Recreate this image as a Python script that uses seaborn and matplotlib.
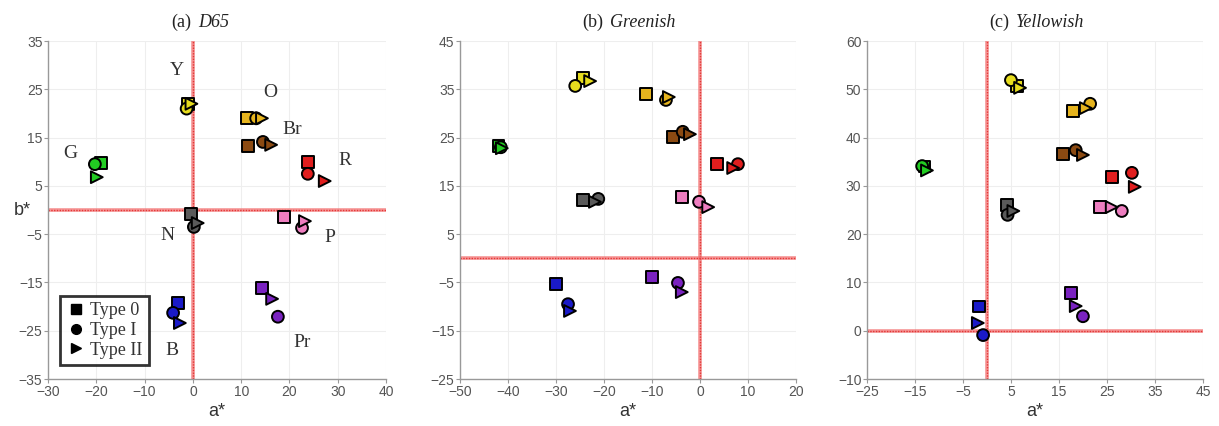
import numpy as np
import pandas as pd
import matplotlib
matplotlib.use("Agg")
import matplotlib.pyplot as plt
from matplotlib.lines import Line2D
import seaborn as sns

sns.set_theme(style="whitegrid")
plt.rcParams["font.family"] = ["Liberation Sans", "DejaVu Sans"]

# Colour categories (same order in every array below)
categories = ["G", "Y", "O", "Br", "R", "N", "P", "Pr", "B"]
types = ["Type 0", "Type I", "Type II"]

# (a) D65 : a*, b* for each type
d65_a_t0 = [-19.0, -1.0, 11.2, 11.4, 23.8, -0.4, 18.9, 14.3, -3.1]
d65_b_t0 = [9.7, 22.0, 19.1, 13.3, 10.0, -0.8, -1.4, -16.1, -19.2]
d65_a_t1 = [-20.3, -1.3, 13.1, 14.5, 23.8, 0.2, 22.6, 17.6, -4.1]
d65_b_t1 = [9.5, 21.0, 19.0, 14.1, 7.5, -3.5, -3.7, -22.1, -21.3]
d65_a_t2 = [-19.9, -0.3, 14.3, 16.2, 27.3, 1.0, 23.2, 16.4, -2.7]
d65_b_t2 = [6.8, 22.0, 19.0, 13.5, 6.0, -2.7, -2.3, -18.4, -23.4]

# (b) Greenish
grn_a_t0 = [-42.0, -24.4, -11.2, -5.7, 3.5, -24.4, -3.8, -10.0, -30.0]
grn_b_t0 = [23.3, 37.3, 34.0, 25.1, 19.5, 12.1, 12.7, -3.9, -5.3]
grn_a_t1 = [-41.5, -26.0, -7.1, -3.6, 7.9, -21.2, -0.2, -4.6, -27.5]
grn_b_t1 = [23.0, 35.7, 32.8, 26.2, 19.5, 12.3, 11.7, -5.1, -9.5]
grn_a_t2 = [-41.3, -22.9, -6.5, -2.1, 6.9, -21.9, 1.7, -3.8, -27.1]
grn_b_t2 = [22.8, 36.7, 33.4, 25.7, 18.7, 11.7, 10.6, -7.0, -10.9]

# (c) Yellowish
yel_a_t0 = [-13.0, 6.2, 17.9, 15.8, 26.0, 4.2, 23.5, 17.5, -1.7]
yel_b_t0 = [34.0, 50.7, 45.5, 36.6, 31.8, 26.0, 25.6, 7.8, 5.0]
yel_a_t1 = [-13.5, 5.0, 21.5, 18.5, 30.2, 4.3, 28.1, 20.0, -0.8]
yel_b_t1 = [34.1, 51.9, 47.0, 37.4, 32.7, 24.0, 24.8, 3.0, -0.9]
yel_a_t2 = [-12.5, 6.9, 20.6, 20.0, 30.8, 5.5, 26.0, 18.5, -1.9]
yel_b_t2 = [33.2, 50.3, 46.1, 36.4, 29.8, 24.8, 25.6, 5.1, 1.6]

# Category label positions for the D65 panel
label_a = [-25.4, -3.3, 16.0, 20.5, 31.5, -5.2, 28.4, 22.6, -4.3]
label_b = [11.8, 28.8, 24.3, 16.6, 10.3, -5.2, -5.6, -27.5, -29.0]

palette = {
    "G": "#22cc22", "Y": "#e6dc1e", "O": "#e6b41e", "Br": "#8b4a12",
    "R": "#e01e1e", "N": "#5a5a5a", "P": "#ee7ec0", "Pr": "#7a22c0",
    "B": "#1a1ac8",
}
markers = {"Type 0": "s", "Type I": "o", "Type II": ">"}


def build(a_lists, b_lists):
    rows = []
    for t, a_vals, b_vals in zip(types, a_lists, b_lists):
        for c, a, b in zip(categories, a_vals, b_vals):
            rows.append({"a": a, "b": b, "cat": c, "type": t})
    return pd.DataFrame(rows)


panels = [
    ("(a)", "D65",
     build([d65_a_t0, d65_a_t1, d65_a_t2], [d65_b_t0, d65_b_t1, d65_b_t2]),
     (-30, 40), (-35, 35), np.arange(-30, 41, 10), np.arange(-35, 36, 10)),
    ("(b)", "Greenish",
     build([grn_a_t0, grn_a_t1, grn_a_t2], [grn_b_t0, grn_b_t1, grn_b_t2]),
     (-50, 20), (-25, 45), np.arange(-50, 21, 10), np.arange(-25, 46, 10)),
    ("(c)", "Yellowish",
     build([yel_a_t0, yel_a_t1, yel_a_t2], [yel_b_t0, yel_b_t1, yel_b_t2]),
     (-25, 45), (-10, 60), np.arange(-25, 46, 10), np.arange(-10, 61, 10)),
]

fig = plt.figure(figsize=(12.19, 4.26), dpi=100)
lefts = [0.0394, 0.3774, 0.7112]
widths = [0.2773, 0.2756, 0.2756]

for i, (tag, illum, df, xlim, ylim, xt, yt) in enumerate(panels):
    ax = fig.add_axes([lefts[i], 0.1103, widths[i], 0.7934])
    ax.set_xlim(*xlim)
    ax.set_ylim(*ylim)
    ax.set_xticks(xt)
    ax.set_yticks(yt)
    ax.grid(True, color="#eeeeee", linewidth=0.8)
    for s in ["top", "right"]:
        ax.spines[s].set_visible(False)
    for s in ["left", "bottom"]:
        ax.spines[s].set_color("#999999")
        ax.spines[s].set_linewidth(1.0)
    ax.tick_params(axis="both", length=3, width=0.8, color="#999999",
                   labelsize=10, labelcolor="#555555", pad=1, direction="out")
    ax.tick_params(axis="x", bottom=True)
    ax.tick_params(axis="y", left=True)

    # a* = 0 and b* = 0 reference lines
    for draw in (ax.axvline, ax.axhline):
        draw(0, color="#f27070", linewidth=2.6, alpha=0.75, zorder=1)
        draw(0, color="#e02020", linewidth=1.0, linestyle=(0, (1, 1)),
             alpha=0.8, zorder=1)

    sns.scatterplot(data=df, x="a", y="b", hue="cat", style="type",
                    palette=palette, markers=markers, s=72,
                    edgecolor="black", linewidth=1.4, legend=False,
                    ax=ax, zorder=3)

    # Title: panel tag upright, illuminant name in italics
    ax.text(0.425, 1.03, tag, transform=ax.transAxes, ha="right",
            va="bottom", fontsize=13, family="Liberation Serif",
            color="#222222")
    ax.text(0.445, 1.03, illum, transform=ax.transAxes, ha="left",
            va="bottom", fontsize=13, family="Liberation Serif",
            style="italic", color="#222222")
    ax.set_xlabel("a*", fontsize=13, color="#333333", labelpad=3)
    ax.set_ylabel("")

    if i == 0:
        ax.text(-33.5, 0.0, "b*", fontsize=13, color="#333333",
                ha="right", va="center")
        for c, la, lb in zip(categories, label_a, label_b):
            ax.text(la, lb, c, fontsize=14, family="Liberation Serif",
                    color="#333333", ha="center", va="center")
        handles = [Line2D([], [], linestyle="none", marker=markers[t],
                          color="black", markersize=7) for t in types]
        leg = ax.legend(handles, types, loc="lower left",
                        bbox_to_anchor=(0.01, 0.015), frameon=True,
                        fancybox=False, handletextpad=0.3,
                        handlelength=1.0, borderpad=0.35, labelspacing=0.15,
                        prop={"family": "Liberation Serif", "size": 13})
        leg.get_frame().set_edgecolor("black")
        leg.get_frame().set_linewidth(2.0)
        for t in leg.get_texts():
            t.set_color("#333333")

fig.savefig("out.png", dpi=100, facecolor="white")
